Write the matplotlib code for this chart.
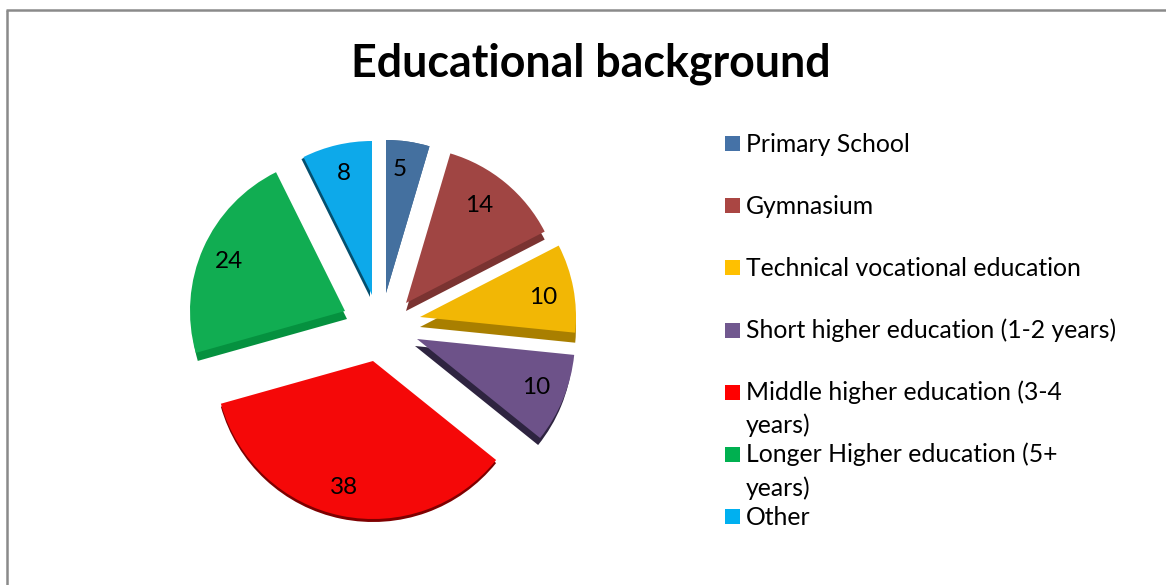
import matplotlib
matplotlib.use('Agg')
import matplotlib.pyplot as plt
from matplotlib.patches import Rectangle

# Dados do gráfico
categorias = ['Primary School', 'Gymnasium', 'Technical vocational education',
              'Short higher education (1-2 years)', 'Middle higher education (3-4\nyears)',
              'Longer Higher education (5+\nyears)', 'Other']
valores = [5, 14, 10, 10, 38, 24, 8]

# Cores das fatias, das laterais e da legenda
cores = ['#44709F', '#A04543', '#F2B705', '#6D5289', '#F50808', '#11AD52', '#0DA9EA']
cores_lateral = ['#3A6088', '#7A3331', '#A97F00', '#2E2440', '#7E0000', '#05913F', '#04506F']
cores_legenda = ['#4572A7', '#AA4643', '#FFC000', '#71588F', '#FF0000', '#00B050', '#00B0F0']

# Posição do vértice, raio e deslocamento da lateral de cada fatia (em pixels)
vertices = [(386, 293), (406, 303), (420, 317), (417, 339), (373, 361), (345, 311), (372, 295)]
raios = [153, 156, 156, 158, 158, 155, 154]
laterais = [(0, 0), (0, 8), (0, 10), (-2, 7), (0, 3), (2, 8), (-2, 2)]
pos_rotulos = [(400, 169), (479, 205), (543, 298), (536, 388), (344, 488), (229, 261), (344, 174)]

fig = plt.figure(figsize=(11.66, 5.85), dpi=100)
ax = fig.add_axes([0, 0, 1, 1])

# Lateral primeiro, para ficar por baixo da fatia
fatias_lat, _ = ax.pie(valores, colors=cores_lateral, startangle=90, counterclock=False)
for f, v, r, d in zip(fatias_lat, vertices, raios, laterais):
    f.set_center((v[0] + d[0], 585 - v[1] - d[1]))
    f.set_radius(r)

fatias, _ = ax.pie(valores, colors=cores, startangle=90, counterclock=False)
for f, v, r in zip(fatias, vertices, raios):
    f.set_center((v[0], 585 - v[1]))
    f.set_radius(r)

ax.set_xlim(0, 1166)
ax.set_ylim(0, 585)
ax.set_aspect('auto')
ax.axis('off')

fonte = 'Lato'

# Valores sobre as fatias
for val, (x, y) in zip(valores, pos_rotulos):
    ax.text(x, 585 - y, str(val), fontsize=17.5, family=fonte, ha='center', va='center', color='black')

ax.text(591, 585 - 64, 'Educational background', fontsize=32.2, fontweight='bold',
        family=fonte, ha='center', va='center', color='black')

# Legenda feita à mão por causa das linhas quebradas
for i, (nome, cor) in enumerate(zip(categorias, cores_legenda)):
    y = 143.5 + i * 62.2
    ax.add_patch(Rectangle((725, 585 - y - 7.5), 15, 15, facecolor=cor, edgecolor='none'))
    for j, linha in enumerate(nome.split('\n')):
        ax.text(746, 585 - (y + 8 + j * 33), linha, fontsize=17.8, family=fonte,
                ha='left', va='baseline', color='black')

# Borda cinza da área do gráfico
ax.plot([7, 7], [0, 575], color='#8A8A8A', lw=1.8, solid_capstyle='butt')
ax.plot([6, 1166], [575, 575], color='#8A8A8A', lw=1.8, solid_capstyle='butt')

fig.savefig('out.png', dpi=100)
